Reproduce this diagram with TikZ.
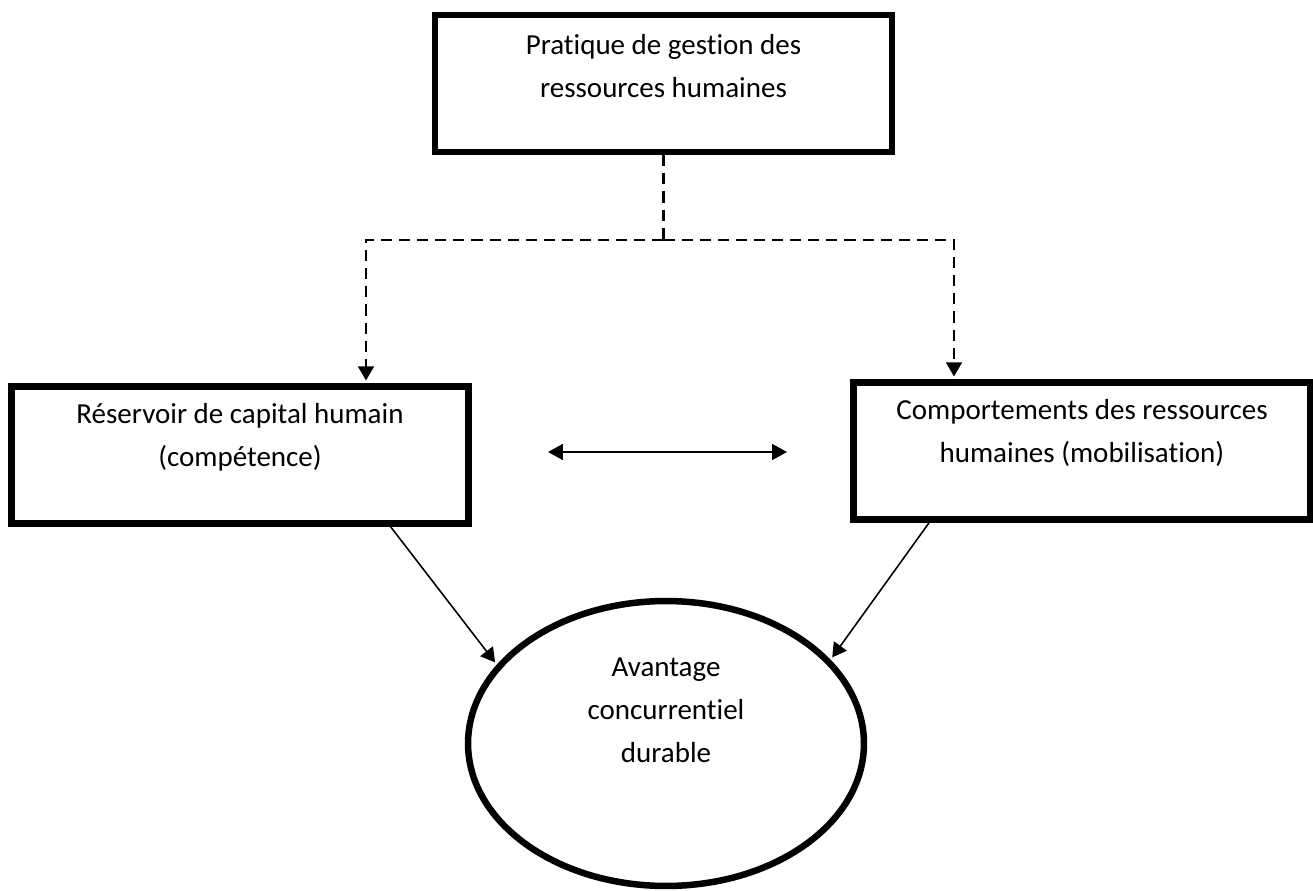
\documentclass[tikz,border=0pt]{standalone}
\usepackage{fontspec}
\setmainfont{Carlito}[Ligatures=NoCommon]
\usetikzlibrary{positioning,shapes.geometric,arrows.meta,calc}

\begin{document}
\begin{tikzpicture}[x=0.02cm, y=-0.02cm,
    cadre/.style={draw, line width=3.7pt, inner sep=0pt,
      minimum width=9.14cm, minimum height=2.74cm},
    texte/.style={inner sep=0pt, align=center,
      font=\fontsize{16.5}{24.5}\selectfont},
    tiret/.style={line width=1.2pt, dash pattern=on 6.3pt off 4pt},
    fleche/.style={-{Triangle[width=9pt,length=8pt]}, shorten >=1.6pt}]

  % cadre de la page
  \useasboundingbox (0,0) rectangle (1313,890);

  % les trois cadres
  \node[cadre] (prat) at (663.5,83.5) {};
  \node[cadre] (res) at (240,455) {};
  \node[cadre] (comp) at (1082,451) {};
  \node[texte, below=0.44cm of prat.north] (pratT) {Pratique de gestion des\\ressources humaines};
  \node[texte, below=0.4cm of res.north] (resT) {Réservoir de capital humain\\(compétence)};
  \node[texte, below=0.4cm of comp.north] (compT) {Comportements des ressources\\humaines (mobilisation)};

  % l'ellipse du bas
  \node[draw, ellipse, line width=3.7pt, inner sep=0pt,
    minimum width=7.92cm, minimum height=5.7cm] (avantage) at (666,743.5) {};
  \node[texte, below=1.2cm of avantage.north] (avantageT) {Avantage\\concurrentiel\\durable};

  % liaisons en pointillés
  \coordinate (fourche) at (prat.south |- 0,240);
  \coordinate (gauche) at (366,240);
  \coordinate (droite) at (954,240);
  \draw[tiret] (prat.south) -- (fourche);
  \draw[tiret, fleche] (fourche) -- (gauche) -- (gauche |- res.north);
  \draw[tiret, fleche] (fourche) -- (droite) -- (droite |- comp.north);

  % liaisons pleines vers l'ellipse
  \draw[fleche, line width=0.9pt]
       ($(res.south west)!0.825!(res.south east)$) -- (avantage.155);
  \draw[fleche, line width=0.9pt]
       ($(comp.south west)!0.17!(comp.south east)$) -- (avantage.27);

  % double flèche entre les deux cadres
  \coordinate (lienG) at (548,452);
  \coordinate (lienD) at (787,452);
  \draw[{Triangle[width=9pt,length=8.5pt]}-{Triangle[width=9pt,length=8.5pt]},
       line width=1.3pt] (lienG) -- (lienD);

\end{tikzpicture}
\end{document}
